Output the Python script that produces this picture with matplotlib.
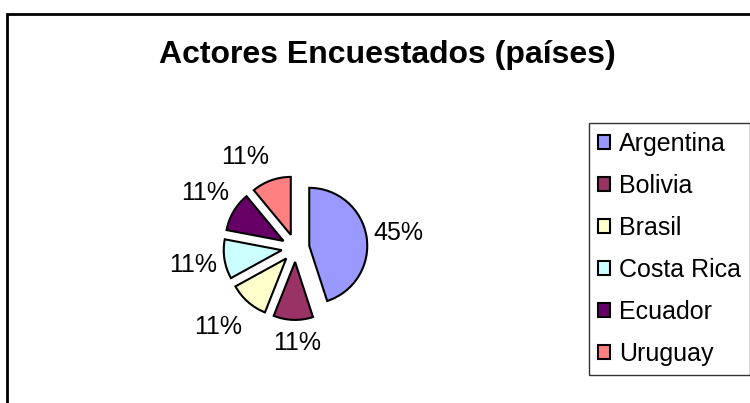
import numpy as np
import matplotlib
matplotlib.use("Agg")
import matplotlib.pyplot as plt
from matplotlib.patches import Rectangle

plt.rcParams["font.family"] = ["Liberation Sans", "DejaVu Sans"]

COUNTRIES = ["Argentina", "Bolivia", "Brasil", "Costa Rica", "Ecuador", "Uruguay"]
SHARES = [45, 11, 11, 11, 11, 11]
COLORS = ["#9999FF", "#993366", "#FFFFCC", "#CCFFFF", "#660066", "#FF8080"]
TITLE = "Actores Encuestados (países)"

# label placement (Excel style, outside the slices)
LABEL_DIST = [1.55, 1.40, 1.66, 1.55, 1.58, 1.56]
LABEL_TURN = [-0.8, 3.2, -3.4, 0.5, -0.8, 10.7]

W, H = 750, 403
fig = plt.figure(figsize=(W / 100, H / 100), dpi=100)

# chart border (cut off at the right and bottom like the source)
fig.patches.append(Rectangle((7 / W, -0.1), 1.2, 1 - 14 / H + 0.1, transform=fig.transFigure,
                             fill=False, edgecolor="black", lw=2, clip_on=False))

fig.text(387.5 / W, 1 - 55 / H, TITLE, ha="center", va="center", fontsize=23, fontweight="bold")

# pie centred at (295.5, 248) px, radius 58 px
size = 232
ax = fig.add_axes([(295.5 - size / 2) / W, (H - 248 - size / 2) / H, size / W, size / H])
wedges, _ = ax.pie(SHARES, colors=COLORS, startangle=90, counterclock=False,
                   explode=[0.24] * len(SHARES),
                   wedgeprops=dict(edgecolor="black", linewidth=1.5))
ax.set_xlim(-2, 2)
ax.set_ylim(-2, 2)
ax.set_aspect("equal")
ax.axis("off")

total = sum(SHARES)
for w, v, d, t in zip(wedges, SHARES, LABEL_DIST, LABEL_TURN):
    ang = np.deg2rad((w.theta1 + w.theta2) / 2 + t)
    cx, cy = w.center
    ax.text(cx + d * np.cos(ang), cy + d * np.sin(ang), f"{round(100 * v / total)}%",
            ha="center", va="center", fontsize=18)

leg = fig.legend(wedges, COUNTRIES, loc="upper left", bbox_to_anchor=(589 / W, 1 - 123 / H),
                 fontsize=18, frameon=True, fancybox=False, edgecolor="black",
                 handlelength=0.5, handleheight=0.5, handletextpad=0.35,
                 labelspacing=0.72, borderpad=0.35, borderaxespad=0)
leg.get_frame().set_linewidth(1.0)

fig.savefig("out.png", dpi=100)
